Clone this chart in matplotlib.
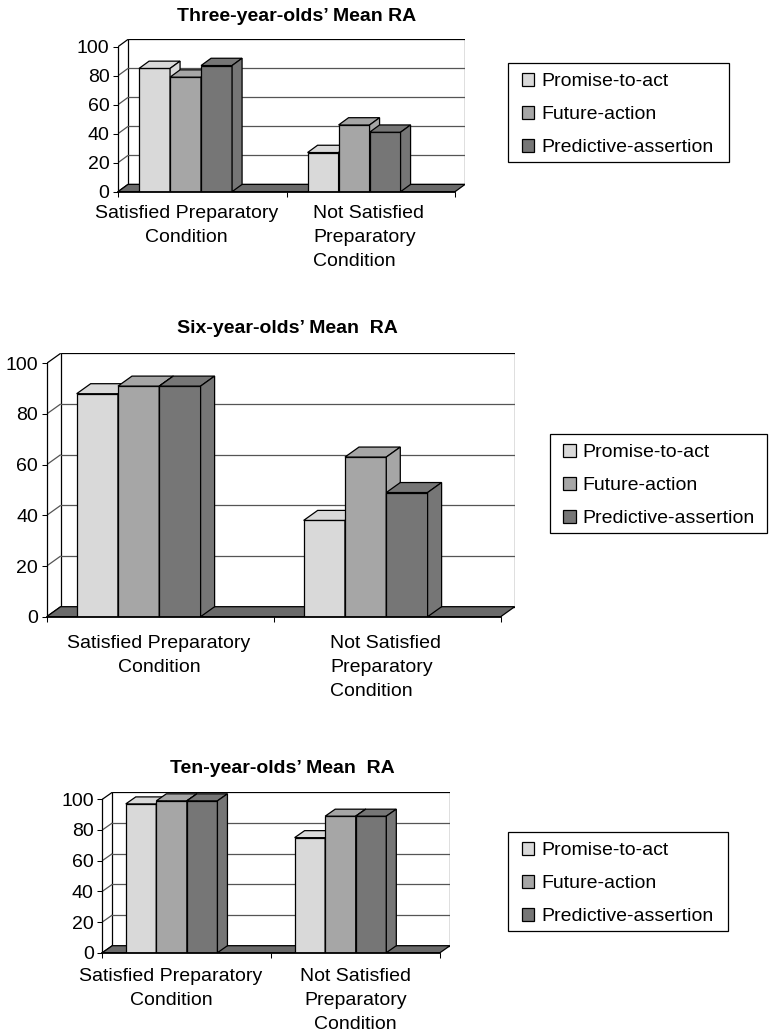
import matplotlib
matplotlib.use("Agg")
import matplotlib.pyplot as plt
from matplotlib.patches import Polygon, Rectangle

plt.rcParams['font.family'] = ['Liberation Sans', 'DejaVu Sans']

W, H = 769, 1034

# ---- data ----
series = ["Promise-to-act", "Future-action", "Predictive-assertion"]
conditions = ["Satisfied Preparatory\nCondition", "Not Satisfied\nPreparatory\nCondition"]
titles = ["Three-year-olds\u2019 Mean RA",
          "Six-year-olds\u2019 Mean  RA",
          "Ten-year-olds\u2019 Mean  RA"]

three_promise = [85, 27]
three_future = [79, 46]
three_predictive = [87, 41]

six_promise = [88, 38]
six_future = [91, 63]
six_predictive = [91, 49]

ten_promise = [97, 75]
ten_future = [99, 89]
ten_predictive = [99, 89]

yticks = [0, 20, 40, 60, 80, 100]

# ---- style ----
bar_colors = ["#d9d9d9", "#a6a6a6", "#767676"]
floor_color = "#6a6a6a"
grid_color = "#555555"
FS = 14

# ---- panel geometry (pixels, origin top-left) ----
panels = [
    dict(values=[three_promise, three_future, three_predictive], title=titles[0],
         x0=118.0, cat_w=168.5, y0=191.7, ppu=1.45, dx=10.0, dy=7.3,
         bar_off=0.125, bar_w=0.184, title_xy=(296.5, 20.7),
         lab_top=205.2, lab1=(186.7, 'center'), lab2=(313.0, 'left'),
         legend_box=(508.3, 62.7, 221.0)),
    dict(values=[six_promise, six_future, six_predictive], title=titles[1],
         x0=46.7, cat_w=227.0, y0=616.7, ppu=2.534, dx=14.0, dy=10.0,
         bar_off=0.132, bar_w=0.182, title_xy=(287.5, 332.7),
         lab_top=634.5, lab1=(159.0, 'center'), lab2=(330.0, 'left'),
         legend_box=(550.0, 434.0, 216.7)),
    dict(values=[ten_promise, ten_future, ten_predictive], title=titles[2],
         x0=102.3, cat_w=168.85, y0=952.7, ppu=1.534, dx=10.0, dy=7.0,
         bar_off=0.139, bar_w=0.181, title_xy=(282.0, 773.3),
         lab_top=967.8, lab1=(171.0, 'center'), lab2=(355.5, 'center'),
         legend_box=(508.3, 831.7, 219.4)),
]


def fx(x):
    return x / W


def fy(y):
    return 1 - y / H


fig = plt.figure(figsize=(W / 100, H / 100), dpi=100)
fig.patch.set_facecolor("white")

for p in panels:
    ncat = len(conditions)
    ddx = p["dx"] / p["cat_w"]
    ddy = p["dy"] / p["ppu"]
    width_px = ncat * p["cat_w"] + p["dx"]
    height_px = 100 * p["ppu"] + p["dy"]
    ax = fig.add_axes([fx(p["x0"]), fy(p["y0"]), width_px / W, height_px / H])
    ax.set_xlim(0, ncat + ddx)
    ax.set_ylim(0, 100 + ddy)
    ax.set_facecolor("none")

    # back wall with gridlines
    ax.add_patch(Rectangle((ddx, ddy), ncat, 100, facecolor="white",
                           edgecolor="black", linewidth=0.9, zorder=0.5))
    for v in yticks[1:-1]:
        ax.plot([ddx, ncat + ddx], [v + ddy, v + ddy], color=grid_color,
                linewidth=0.9, zorder=1)
    # side wall lines
    for v in yticks:
        ax.plot([0, ddx], [v, v + ddy], color="black" if v in (0, 100) else grid_color,
                linewidth=0.9, zorder=1, solid_capstyle="butt")
    # floor
    ax.add_patch(Polygon([(0, 0), (ncat, 0), (ncat + ddx, ddy), (ddx, ddy)],
                         closed=True, facecolor=floor_color, edgecolor="black",
                         linewidth=0.9, zorder=2))

    # 3-D columns
    for i, vals in enumerate(p["values"]):
        lefts = [g + p["bar_off"] + i * p["bar_w"] for g in range(ncat)]
        z = 3 + 3 * i
        ax.bar(lefts, vals, width=p["bar_w"], align="edge", color=bar_colors[i],
               edgecolor="black", linewidth=0.9, zorder=z, label=series[i])
        bw = p["bar_w"]
        for xl, v in zip(lefts, vals):
            top = [(xl, v), (xl + bw, v), (xl + bw + ddx, v + ddy), (xl + ddx, v + ddy)]
            side = [(xl + bw, 0), (xl + bw + ddx, ddy), (xl + bw + ddx, v + ddy), (xl + bw, v)]
            ax.add_patch(Polygon(top, closed=True, facecolor=bar_colors[i],
                                 edgecolor="black", linewidth=0.9, zorder=z + 1,
                                 clip_on=False))
            ax.add_patch(Polygon(side, closed=True, facecolor=bar_colors[i],
                                 edgecolor="black", linewidth=0.9, zorder=z + 2,
                                 clip_on=False))

    # axes
    for s in ("top", "right"):
        ax.spines[s].set_visible(False)
    ax.spines["left"].set_bounds(0, 100)
    ax.spines["bottom"].set_bounds(0, ncat)
    ax.spines["left"].set_linewidth(0.9)
    ax.spines["bottom"].set_linewidth(1.3)
    ax.spines["left"].set_zorder(20)
    ax.spines["bottom"].set_zorder(20)
    ax.set_yticks(yticks)
    ax.set_xticks(range(ncat + 1))
    ax.set_xticklabels([])
    ax.tick_params(axis="y", direction="out", length=3.6, width=0.75, pad=2.6,
                   labelsize=FS)
    ax.tick_params(axis="x", direction="out", length=3.6, width=0.75)

    # title
    fig.text(fx(p["title_xy"][0]), fy(p["title_xy"][1]), p["title"], ha="center",
             va="baseline", fontsize=FS, fontweight="bold")

    # category labels
    for (lx, al), lab in zip([p["lab1"], p["lab2"]], conditions):
        fig.text(fx(lx), fy(p["lab_top"]), lab, ha=al, va="top", multialignment=al,
                 fontsize=FS, linespacing=1.545)

    # legend
    lx0, ly0, box_w = p["legend_box"]
    box_h = 99.0
    fig.patches.append(Rectangle((fx(lx0), fy(ly0 + box_h)), box_w / W, box_h / H,
                                 transform=fig.transFigure, facecolor="white",
                                 edgecolor="black", linewidth=0.9))
    sw = 12.6
    for i, name in enumerate(series):
        cy = ly0 + 16.6 + 33.0 * i
        fig.patches.append(Rectangle((fx(lx0 + 13.2), fy(cy + sw / 2)), sw / W, sw / H,
                                     transform=fig.transFigure, facecolor=bar_colors[i],
                                     edgecolor="black", linewidth=0.9))
        fig.text(fx(lx0 + 32.6), fy(cy + 6.8), name, ha="left", va="baseline",
                 fontsize=FS)

fig.savefig("out.png", dpi=100, facecolor="white")
